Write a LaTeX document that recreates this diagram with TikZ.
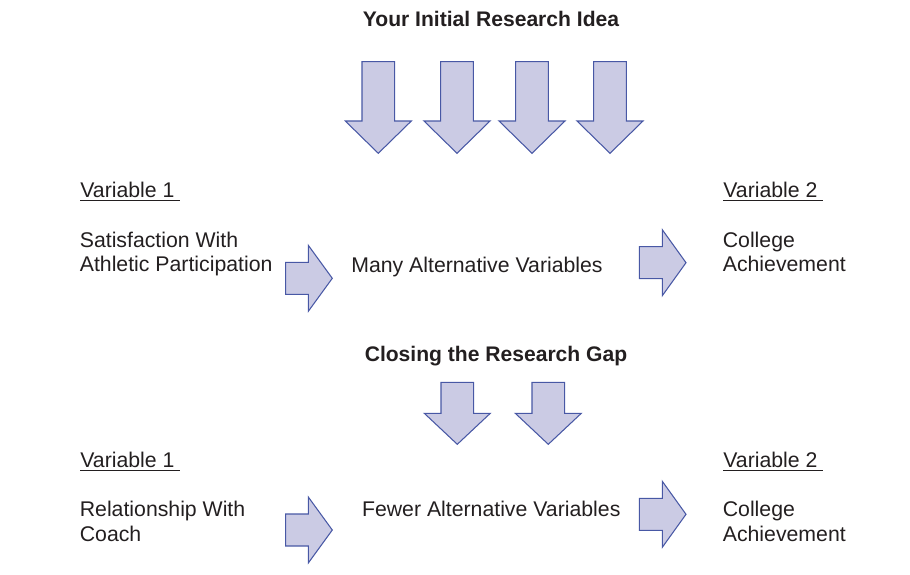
\documentclass[tikz,border=0pt]{standalone}
\usepackage{fontspec}
\setmainfont{Liberation Sans}
\definecolor{arrowfill}{RGB}{203,203,228}
\definecolor{arrowline}{RGB}{72,88,165}
\definecolor{ink}{RGB}{35,31,32}
\tikzset{
  blockarr/.style={fill=arrowfill,draw=arrowline,line width=0.6pt,line join=miter},
  heading/.style={font=\fontsize{12}{14}\selectfont\bfseries,text=ink,inner sep=0},
  vartext/.style={font=\fontsize{12.1}{13.9}\selectfont,text=ink,inner sep=0,align=left}
}
% #1 centre x, #2 shaft top, #3 head base, #4 tip
\newcommand{\dnarr}[4]{%
  \filldraw[blockarr] (#1-16.3,#2) -- (#1+16.3,#2) -- (#1+16.3,#3) -- (#1+33,#3)
    -- (#1,#4) -- (#1-33,#3) -- (#1-16.3,#3) -- cycle;}
% #1 shaft left, #2 head base, #3 tip, #4 centre y
\newcommand{\rtarr}[4]{%
  \filldraw[blockarr] (#1,#4-16) -- (#2,#4-16) -- (#2,#4-33) -- (#3,#4)
    -- (#2,#4+33) -- (#2,#4+16) -- (#1,#4+16) -- cycle;}

\begin{document}
\begin{tikzpicture}[x=0.02cm,y=-0.02cm]
    \useasboundingbox (0,0) rectangle (910,575);
    % first part
    \node[heading,anchor=base] (idea) at (491,26) {Your Initial Research Idea};
    \dnarr{378.3}{61.7}{121}{153.3}
    \dnarr{457}{61.7}{121}{153.3}
    \dnarr{532}{61.7}{121}{153.3}
    \dnarr{610}{61.7}{121}{153.3}
    \node[vartext,anchor=base west] (varA) at (80,197.3) {\underline{Variable 1\ }};
    \node[vartext,anchor=base west] (varB) at (723,197.3) {\underline{Variable 2\ }};
    \node[vartext,anchor=base west] (satis) at (79.5,271.7) {Satisfaction With\\Athletic Participation};
    \node[vartext,anchor=base west] (many) at (351,272.7) {Many Alternative Variables};
    \node[vartext,anchor=base west] (collA) at (722.5,271.7) {College\\Achievement};
    \rtarr{285.7}{308.3}{332.3}{278.3}
    \rtarr{639.3}{662.3}{686}{262.7}
    % second part
    \node[heading,anchor=base] (gap) at (496,361.7) {Closing the Research Gap};
    \dnarr{457.3}{382.3}{413.3}{444.3}
    \dnarr{548.3}{382.3}{413.3}{444.3}
    \node[vartext,anchor=base west] (varC) at (80,467.3) {\underline{Variable 1\ }};
    \node[vartext,anchor=base west] (varD) at (723,467.3) {\underline{Variable 2\ }};
    \node[vartext,anchor=base west] (coach) at (79.5,541) {Relationship With\\Coach};
    \node[vartext,anchor=base west] (fewer) at (361.7,516.7) {Fewer Alternative Variables};
    \node[vartext,anchor=base west] (collB) at (722.5,541) {College\\Achievement};
    \rtarr{285.7}{308.3}{332.3}{530}
    \rtarr{639.3}{662.3}{686}{514.3}
\end{tikzpicture}
\end{document}
